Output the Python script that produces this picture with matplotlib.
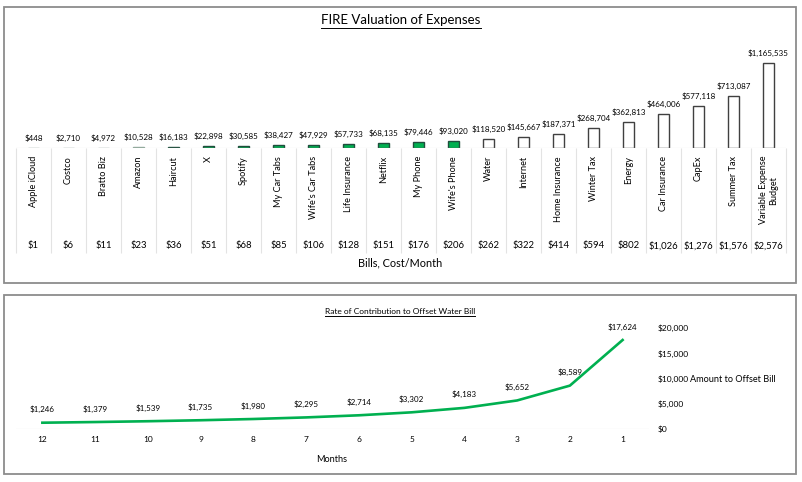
import numpy as np
import matplotlib
matplotlib.use("Agg")
import matplotlib.pyplot as plt
import matplotlib.transforms as mtransforms
from matplotlib.lines import Line2D
from matplotlib.patches import Rectangle
from matplotlib.ticker import FuncFormatter

plt.rcParams['font.family'] = ['Lato', 'DejaVu Sans']

# top chart data
bills = ["Apple iCloud", "Costco", "Bratto Biz", "Amazon", "Haircut", "X",
         "Spotify", "My Car Tabs", "Wife's Car Tabs", "Life Insurance",
         "Netflix", "My Phone", "Wife's Phone", "Water", "Internet",
         "Home Insurance", "Winter Tax", "Energy", "Car Insurance", "CapEx",
         "Summer Tax", "Variable Expense\nBudget"]
fire_value = [448, 2710, 4972, 10528, 16183, 22898, 30585, 38427, 47929,
              57733, 68135, 79446, 93020, 118520, 145667, 187371, 268704,
              362813, 464006, 577118, 713087, 1165535]
cost_month = [1, 6, 11, 23, 36, 51, 68, 85, 106, 128, 151, 176, 206, 262,
              322, 414, 594, 802, 1026, 1276, 1576, 2576]
n_covered = 13   # bills already covered (green)

# bottom chart data
months = ["12", "11", "10", "9", "8", "7", "6", "5", "4", "3", "2", "1"]
offset_amount = [1246, 1379, 1539, 1735, 1980, 2295, 2714, 3302, 4183,
                 5652, 8589, 17624]

W, H = 802, 482
fig = plt.figure(figsize=(W / 100, H / 100), dpi=100)


def fx(px):
    return px / W


def fy(py):
    return 1 - py / H


# panel frames
for (x0, y0, x1, y1) in [(4, 7, 796, 283), (4, 295, 796, 474)]:
    fig.add_artist(Rectangle((fx(x0), fy(y1)), fx(x1 - x0), (y1 - y0) / H,
                             transform=fig.transFigure, fill=False,
                             edgecolor='#8c8c8c', linewidth=1.3))

# ---------- top chart ----------
ax = fig.add_axes([fx(16), fy(148), fx(770), 108 / H])
x = np.arange(len(bills))
face = ['#00B050' if i < n_covered else 'white' for i in range(len(bills))]
edge = []
for i in range(len(bills)):
    if i < 4:
        edge.append('#8fa89a')
    elif i < n_covered:
        edge.append('#1f4e3d')
    else:
        edge.append('#404040')
ax.bar(x, fire_value, width=0.32, color=face, edgecolor=edge, linewidth=1.0)
ax.set_xlim(-0.5, len(bills) - 0.5)
ax.set_ylim(0, 1165535 * 108 / 85)
ax.axis('off')
ax.axhline(0, color='#d9d9d9', linewidth=0.8)

for xi, v in zip(x, fire_value):
    ax.annotate(f"${v:,}", (xi, v), xytext=(0, 7), textcoords='offset points',
                ha='center', va='center', fontsize=5.8)

bt = mtransforms.blended_transform_factory(ax.transData, fig.transFigure)
ax.vlines(np.arange(len(bills) + 1) - 0.5, fy(253), fy(148), transform=bt,
          colors='#e3e3e3', linewidth=0.8, clip_on=False)
for xi, name, c in zip(x, bills, cost_month):
    ax.text(xi, fy(156), name, transform=bt, rotation=90, ha='center',
            va='top', fontsize=6.6, multialignment='center')
    ax.text(xi, fy(246), f"${c:,}", transform=bt, ha='center', va='center',
            fontsize=6.8)

fig.text(fx(400), fy(263), "Bills, Cost/Month", ha='center', va='center',
         fontsize=7.8)
t1 = fig.text(fx(401), fy(20), "FIRE Valuation of Expenses", ha='center',
              va='center', fontsize=9.5)

# ---------- bottom chart ----------
ax2 = fig.add_axes([fx(16), fy(429), fx(633), 101 / H])
xm = np.arange(len(months))
ax2.plot(xm, offset_amount, color='#00B050', linewidth=1.9,
         solid_joinstyle='round')
ax2.set_xlim(-0.5, len(months) - 0.5)
ax2.set_ylim(0, 20000)
ax2.axhline(0, color='#d9d9d9', linewidth=0.8)
for s in ax2.spines.values():
    s.set_visible(False)
ax2.set_xticks(xm)
ax2.set_xticklabels(months, fontsize=6)
ax2.yaxis.tick_right()
ax2.set_yticks([0, 5000, 10000, 15000, 20000])
ax2.yaxis.set_major_formatter(FuncFormatter(lambda v, p: f"${int(v):,}"))
ax2.tick_params(axis='both', length=0, labelsize=6)
ax2.tick_params(axis='x', pad=5)
ax2.tick_params(axis='y', pad=6.5)
for lab in ax2.get_yticklabels():
    lab.set_horizontalalignment('left')

for xi, v in zip(xm, offset_amount):
    ax2.annotate(f"${v:,}", (xi, v), xytext=(0, 9.5),
                 textcoords='offset points', ha='center', va='center',
                 fontsize=5.8)

fig.text(fx(690), fy(379), "Amount to Offset Bill", ha='left', va='center',
         fontsize=6.6)
fig.text(fx(332), fy(459), "Months", ha='center', va='center', fontsize=6.6)
t2 = fig.text(fx(400), fy(311), "Rate of Contribution to Offset Water Bill",
              ha='center', va='center', fontsize=6)

# underline the titles
fig.canvas.draw()
renderer = fig.canvas.get_renderer()
for t, gap in [(t1, 1.5), (t2, 1.0)]:
    bb = t.get_window_extent(renderer)
    yline = bb.y0 - gap
    fig.add_artist(Line2D([bb.x0 / W, bb.x1 / W], [yline / H, yline / H],
                          transform=fig.transFigure, color='black',
                          linewidth=0.7))

fig.savefig("out.png", dpi=100)
